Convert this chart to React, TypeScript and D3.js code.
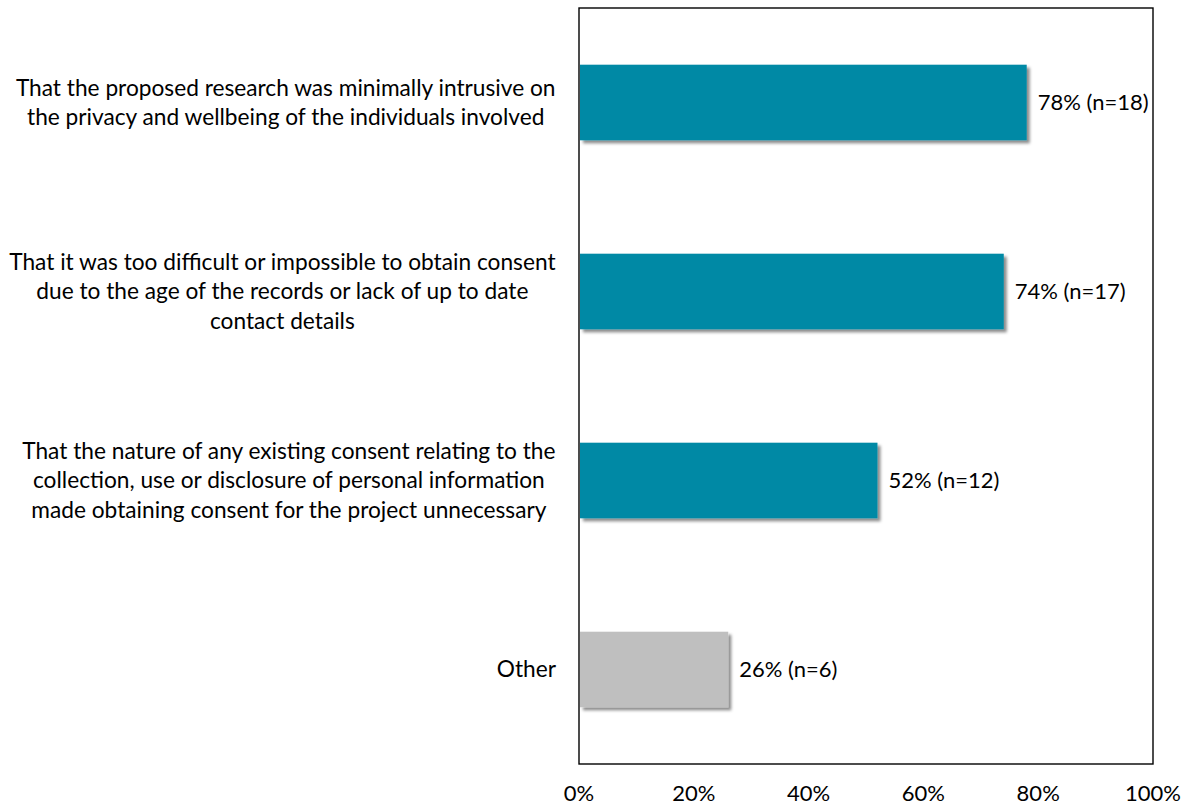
import React, { useMemo } from "react";
import * as d3 from "d3";

// Survey responses: reasons given for waiving consent
const categories: string[][] = [
  [
    "That the proposed research was minimally intrusive on",
    "the privacy and wellbeing of the individuals involved",
  ],
  [
    "That it was too difficult or impossible to obtain consent",
    "due to the age of the records or lack of up to date",
    "contact details",
  ],
  [
    "That the nature of any existing consent relating to the",
    "collection, use or disclosure of personal information",
    "made obtaining consent for the project unnecessary",
  ],
  ["Other"],
];
const percents: number[] = [78, 74, 52, 26];
const counts: number[] = [18, 17, 12, 6];
const barColors: string[] = ["#0389A5", "#0389A5", "#0389A5", "#BFBFBF"];
const xTicks: number[] = [0, 20, 40, 60, 80, 100];

const W = 1189;
const H = 805;
const FONT = "Lato, 'Open Sans', sans-serif";
const FONT_SIZE = 22.7;
const VALUE_SIZE = 22;
const LINE_H = 29.5;

function measure(text: string): number {
  const c = document.createElement("canvas");
  const ctx = c.getContext("2d")!;
  ctx.font = `${FONT_SIZE}px Lato`;
  return ctx.measureText(text).width;
}

export default function App() {
  const plot = { left: 579, right: 1153, top: 8, bottom: 764 };

  const x = d3.scaleLinear().domain([0, 100]).range([plot.left, plot.right]);
  const y = d3
    .scaleBand<number>()
    .domain(d3.range(categories.length))
    .range([plot.top, plot.bottom])
    .paddingInner(0.6)
    .paddingOuter(0.3);

  const labelRight = 556;
  const blockWidths = useMemo(
    () => categories.map((lines) => d3.max(lines, (l) => measure(l)) ?? 0),
    []
  );

  return (
    <div style={{ position: "absolute", left: 0, top: 0 }}>
      <svg width={W} height={H} style={{ display: "block", background: "#fff" }}>
        <defs>
          <filter id="barShadow" x="-10%" y="-10%" width="130%" height="140%">
            <feDropShadow dx="3" dy="3" stdDeviation="1.8" floodColor="#000" floodOpacity="0.45" />
          </filter>
        </defs>

        {/* bars */}
        {percents.map((p, i) => (
          <rect
            key={`bar-${i}`}
            x={x(0) + 1}
            y={y(i)!}
            width={x(p) - x(0) - 1}
            height={y.bandwidth()}
            fill={barColors[i]}
            filter="url(#barShadow)"
          />
        ))}

        {/* plot frame */}
        <rect
          x={plot.left}
          y={plot.top}
          width={plot.right - plot.left}
          height={plot.bottom - plot.top}
          fill="none"
          stroke="#000"
          strokeWidth={1.4}
        />

        {/* value labels */}
        {percents.map((p, i) => (
          <text
            key={`val-${i}`}
            x={x(p) + 11}
            y={y(i)! + y.bandwidth() / 2}
            dy="0.35em"
            fontFamily={FONT}
            fontSize={VALUE_SIZE}
            fill="#000"
          >
            {`${p}% (n=${counts[i]})`}
          </text>
        ))}

        {/* category labels */}
        {categories.map((lines, i) => {
          const cy = y(i)! + y.bandwidth() / 2;
          const cx = labelRight - blockWidths[i] / 2;
          const y0 = cy - ((lines.length - 1) * LINE_H) / 2;
          return (
            <text
              key={`cat-${i}`}
              textAnchor="middle"
              fontFamily={FONT}
              fontSize={FONT_SIZE}
              fill="#000"
            >
              {lines.map((l, j) => (
                <tspan key={j} x={cx} y={y0 + j * LINE_H} dy="0.35em">
                  {l}
                </tspan>
              ))}
            </text>
          );
        })}

        {/* x-axis tick labels */}
        {xTicks.map((t) => (
          <text
            key={`tick-${t}`}
            x={x(t)}
            y={plot.bottom + 37}
            textAnchor="middle"
            fontFamily={FONT}
            fontSize={VALUE_SIZE}
            fill="#000"
          >
            {`${t}%`}
          </text>
        ))}
      </svg>
    </div>
  );
}
